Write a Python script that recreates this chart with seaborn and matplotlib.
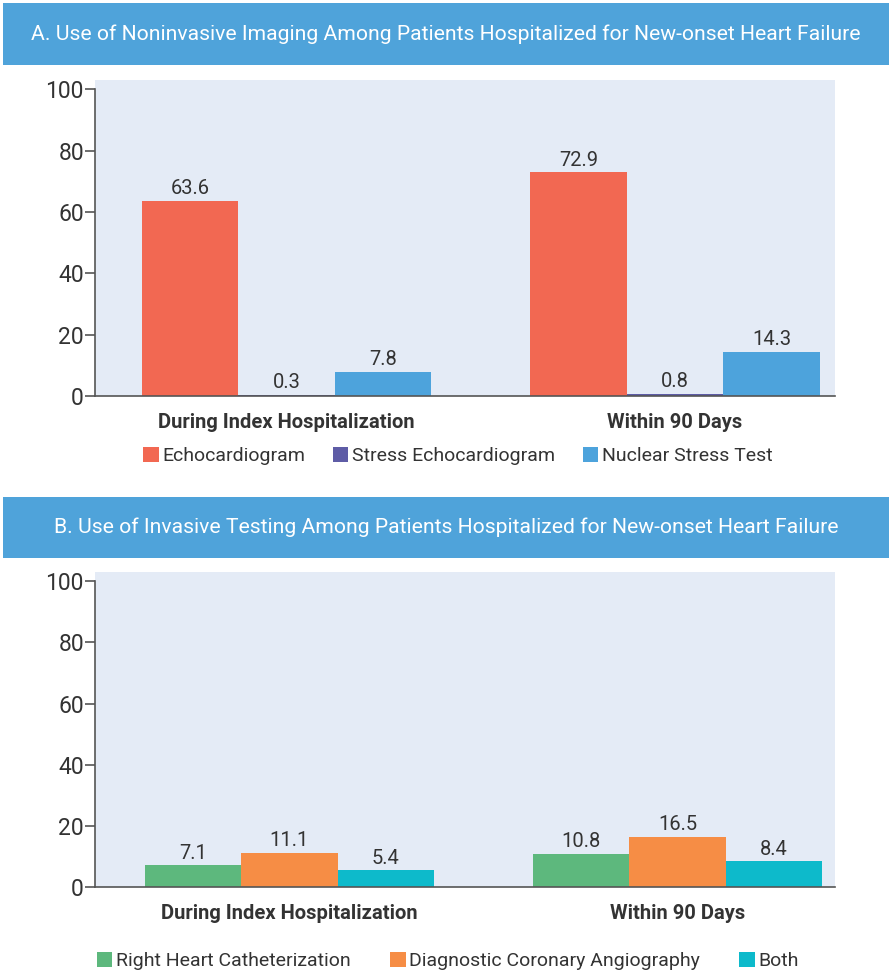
import pandas as pd
import matplotlib
matplotlib.use('Agg')
import matplotlib.pyplot as plt
import seaborn as sns
from matplotlib.patches import Rectangle, Patch

periods = ['During Index Hospitalization', 'Within 90 Days']

imaging_tests = ['Echocardiogram', 'Stress Echocardiogram', 'Nuclear Stress Test']
imaging_index = [63.6, 0.3, 7.8]
imaging_90d = [72.9, 0.8, 14.3]
imaging_colors = ['#F26852', '#5E5CA6', '#4DA3DC']

invasive_tests = ['Right Heart Catheterization', 'Diagnostic Coronary Angiography', 'Both']
invasive_index = [7.1, 11.1, 5.4]
invasive_90d = [10.8, 16.5, 8.4]
invasive_colors = ['#5DB87D', '#F68D45', '#0DBACB']

yticks = [0, 20, 40, 60, 80, 100]

titles = ['A. Use of Noninvasive Imaging Among Patients Hospitalized for New-onset Heart Failure',
          'B. Use of Invasive Testing Among Patients Hospitalized for New-onset Heart Failure']

sns.set_style('white')
plt.rcParams['font.family'] = ['Roboto', 'DejaVu Sans']

W, H = 892, 974
fig = plt.figure(figsize=(W / 100, H / 100), dpi=100)

text_col = '#333333'
banner_col = '#4FA3DA'
bg_col = '#E4EBF6'


def panel(tests, vals_a, vals_b, colors, title, banner_top, banner_bot, axis_top, axis_bot, xlim, legend_y, legend_x, legend_sp):
    # banner
    fig.patches.append(Rectangle((3 / W, 1 - banner_bot / H), 886 / W, (banner_bot - banner_top) / H,
                                 transform=fig.transFigure, facecolor=banner_col, edgecolor='none'))
    fig.text(0.5, 1 - (banner_top + banner_bot) / 2 / H, title, color='white', fontsize=15.2,
             ha='center', va='center')

    ax = fig.add_axes([95 / W, 1 - axis_bot / H, 740 / W, (axis_bot - axis_top) / H])
    df = pd.DataFrame({
        'period': [periods[0]] * 3 + [periods[1]] * 3,
        'test': tests * 2,
        'value': vals_a + vals_b,
    })
    sns.barplot(data=df, x='period', y='value', hue='test', hue_order=tests, palette=colors,
                width=0.745, saturation=1, ax=ax, legend=False, linewidth=0)
    for c in ax.containers:
        ax.bar_label(c, fmt='%.1f', padding=2, fontsize=14.5, color=text_col)

    ax.set_facecolor(bg_col)
    ax.set_xlim(*xlim)
    ax.set_ylim(0, 103)
    ax.set_yticks(yticks)
    ax.set_xlabel('')
    ax.set_ylabel('')
    for s in ['top', 'right']:
        ax.spines[s].set_visible(False)
    for s in ['left', 'bottom']:
        ax.spines[s].set_color('#555555')
        ax.spines[s].set_linewidth(1.2)
    ax.spines['left'].set_bounds(0, 100)
    ax.tick_params(axis='y', left=True, length=7, width=1.2, color='#555555',
                   labelsize=16.5, labelcolor=text_col, pad=1)
    ax.tick_params(axis='x', bottom=False, labelsize=14.5, labelcolor=text_col, pad=9)
    for lab in ax.get_xticklabels():
        lab.set_fontweight('bold')

    handles = [Patch(facecolor=c, edgecolor='none') for c in colors]
    ax.legend(handles, tests, loc='center',
              bbox_to_anchor=((legend_x - 95) / 740, 1 - (legend_y - axis_top) / (axis_bot - axis_top)),
              ncol=3, frameon=False, fontsize=14, handlelength=0.8, handleheight=0.8,
              handletextpad=0.2, columnspacing=legend_sp, labelcolor=text_col)
    return ax


panel(imaging_tests, imaging_index, imaging_90d, imaging_colors, titles[0],
      3, 65, 80, 396, (-0.493, 1.412), 456, 458, 1.4)
panel(invasive_tests, invasive_index, invasive_90d, invasive_colors, titles[1],
      497, 558, 572, 887, (-0.501, 1.406), 961, 448, 2.0)

fig.savefig('out.png', dpi=100, facecolor='white')
